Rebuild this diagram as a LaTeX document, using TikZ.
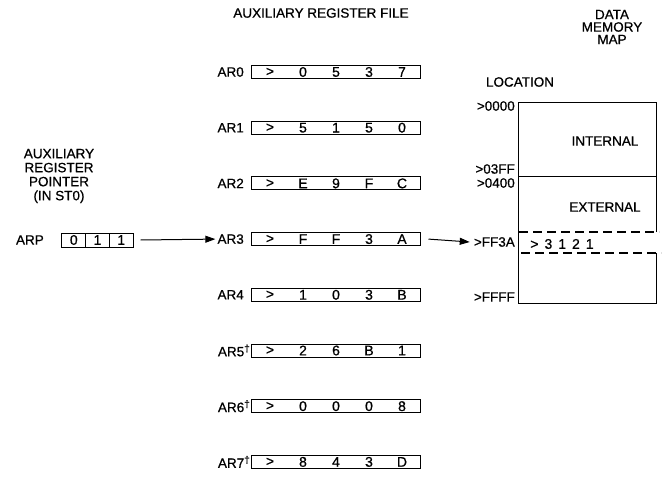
\documentclass[tikz,border=0pt]{standalone}
\usepackage{fontspec}
\setmainfont{Liberation Sans}
\newfontfamily\lf{Liberation Sans}[FakeBold=0.7]
\usetikzlibrary{arrows.meta}
\newcommand{\dg}{\raisebox{4.5pt}{\fontsize{10}{10}\selectfont †}}
\tikzset{
  lbl/.style={inner sep=0pt, font=\lf\fontsize{13.5}{15}\selectfont},
  regbox/.style={draw, line width=1pt, minimum width=169pt, minimum height=13pt, inner sep=0pt},
  dig/.style={inner sep=0pt, font=\lf\fontsize{14}{15}\selectfont},
  cell/.style={draw, line width=1pt, minimum width=23.7pt, minimum height=14pt, inner sep=0pt, font=\lf\fontsize{14}{15}\selectfont},
  arr/.style={line width=1pt, -{Triangle[length=10pt,width=7pt]}},
  mline/.style={line width=1pt},
  dline/.style={line width=1.1pt, dash pattern=on 9pt off 5pt}
}
\begin{document}
\begin{tikzpicture}[x=1pt,y=-1pt]
\useasboundingbox (0,0) rectangle (667,484);

% titles
\node[lbl] (title) at (321,13) {AUXILIARY REGISTER FILE};
\node[lbl, align=center] (dmm) at (612,27) {DATA\\[-2.5pt]MEMORY\\[-2.5pt]MAP};
\node[lbl, align=center] (arptitle) at (59,176) {AUXILIARY\\[-1pt]REGISTER\\[-1pt]POINTER\\[-1pt](IN ST0)};

% register file
\foreach \i/\lab/\xl/\a/\b/\c/\d in {0/AR0/244/0/5/3/7, 1/AR1/244/5/1/5/0, 2/AR2/244/E/9/F/C, 3/AR3/244/F/F/3/A, 4/AR4/244/1/0/3/B, 5/AR5\dg/250/2/6/B/1, 6/AR6\dg/250/0/0/0/8, 7/AR7\dg/250/8/4/3/D}{
  \pgfmathsetmacro\yy{72+55.7*\i}
  \node[regbox] (r\i) at (335.5,\yy) {};
  \node[lbl, anchor=east] (l\i) at (\xl,\yy) {\lab};
  \node[dig] (g\i) at (270,\yy) {>};
  \node[dig] (a\i) at (303,\yy) {\a};
  \node[dig] (b\i) at (336,\yy) {\b};
  \node[dig] (c\i) at (369,\yy) {\c};
  \node[dig] (d\i) at (402,\yy) {\d};
}

% ARP
\node[lbl, anchor=east] (arp) at (44,240) {ARP};
\node[cell] (p0) at (73.8,240) {0};
\node[cell] (p1) at (97.5,240) {1};
\node[cell] (p2) at (121.2,240) {1};
\draw[arr] ([xshift=7pt]p2.east) -- ([xshift=-2pt]l3.west);

% memory map
\node[lbl] (loc) at (520,82) {LOCATION};
\coordinate (mtl) at (518,103);
\coordinate (mtr) at (656,103);
\coordinate (mbl) at (518,303);
\coordinate (mbr) at (656,303);
\draw[mline] (656,232) -- (mtr) -- (mtl) -- (mbl) -- (mbr) -- (656,253);
\draw[mline] (518,177) -- (656,177);
\draw[dline] (519,232) -- (659,232);
\draw[dline] (521,253) -- (661,253);

\node[lbl, anchor=east] (a0000) at (515,106) {>0000};
\node[lbl, anchor=east] (a03ff) at (515,169) {>03FF};
\node[lbl, anchor=east] (a0400) at (515,183) {>0400};
\node[lbl, anchor=east] (aff3a) at (515,242) {>FF3A};
\node[lbl, anchor=east] (affff) at (515,297) {>FFFF};
\node[lbl] (int) at (605,141) {INTERNAL};
\node[lbl] (ext) at (605,207) {EXTERNAL};
\node[dig] (val) at (562,244) {>\hspace{6pt}3\hspace{6pt}1\hspace{6pt}2\hspace{6pt}1};

\draw[arr] ([xshift=8pt]r3.east) -- ([xshift=-4pt]aff3a.west);
\end{tikzpicture}
\end{document}
